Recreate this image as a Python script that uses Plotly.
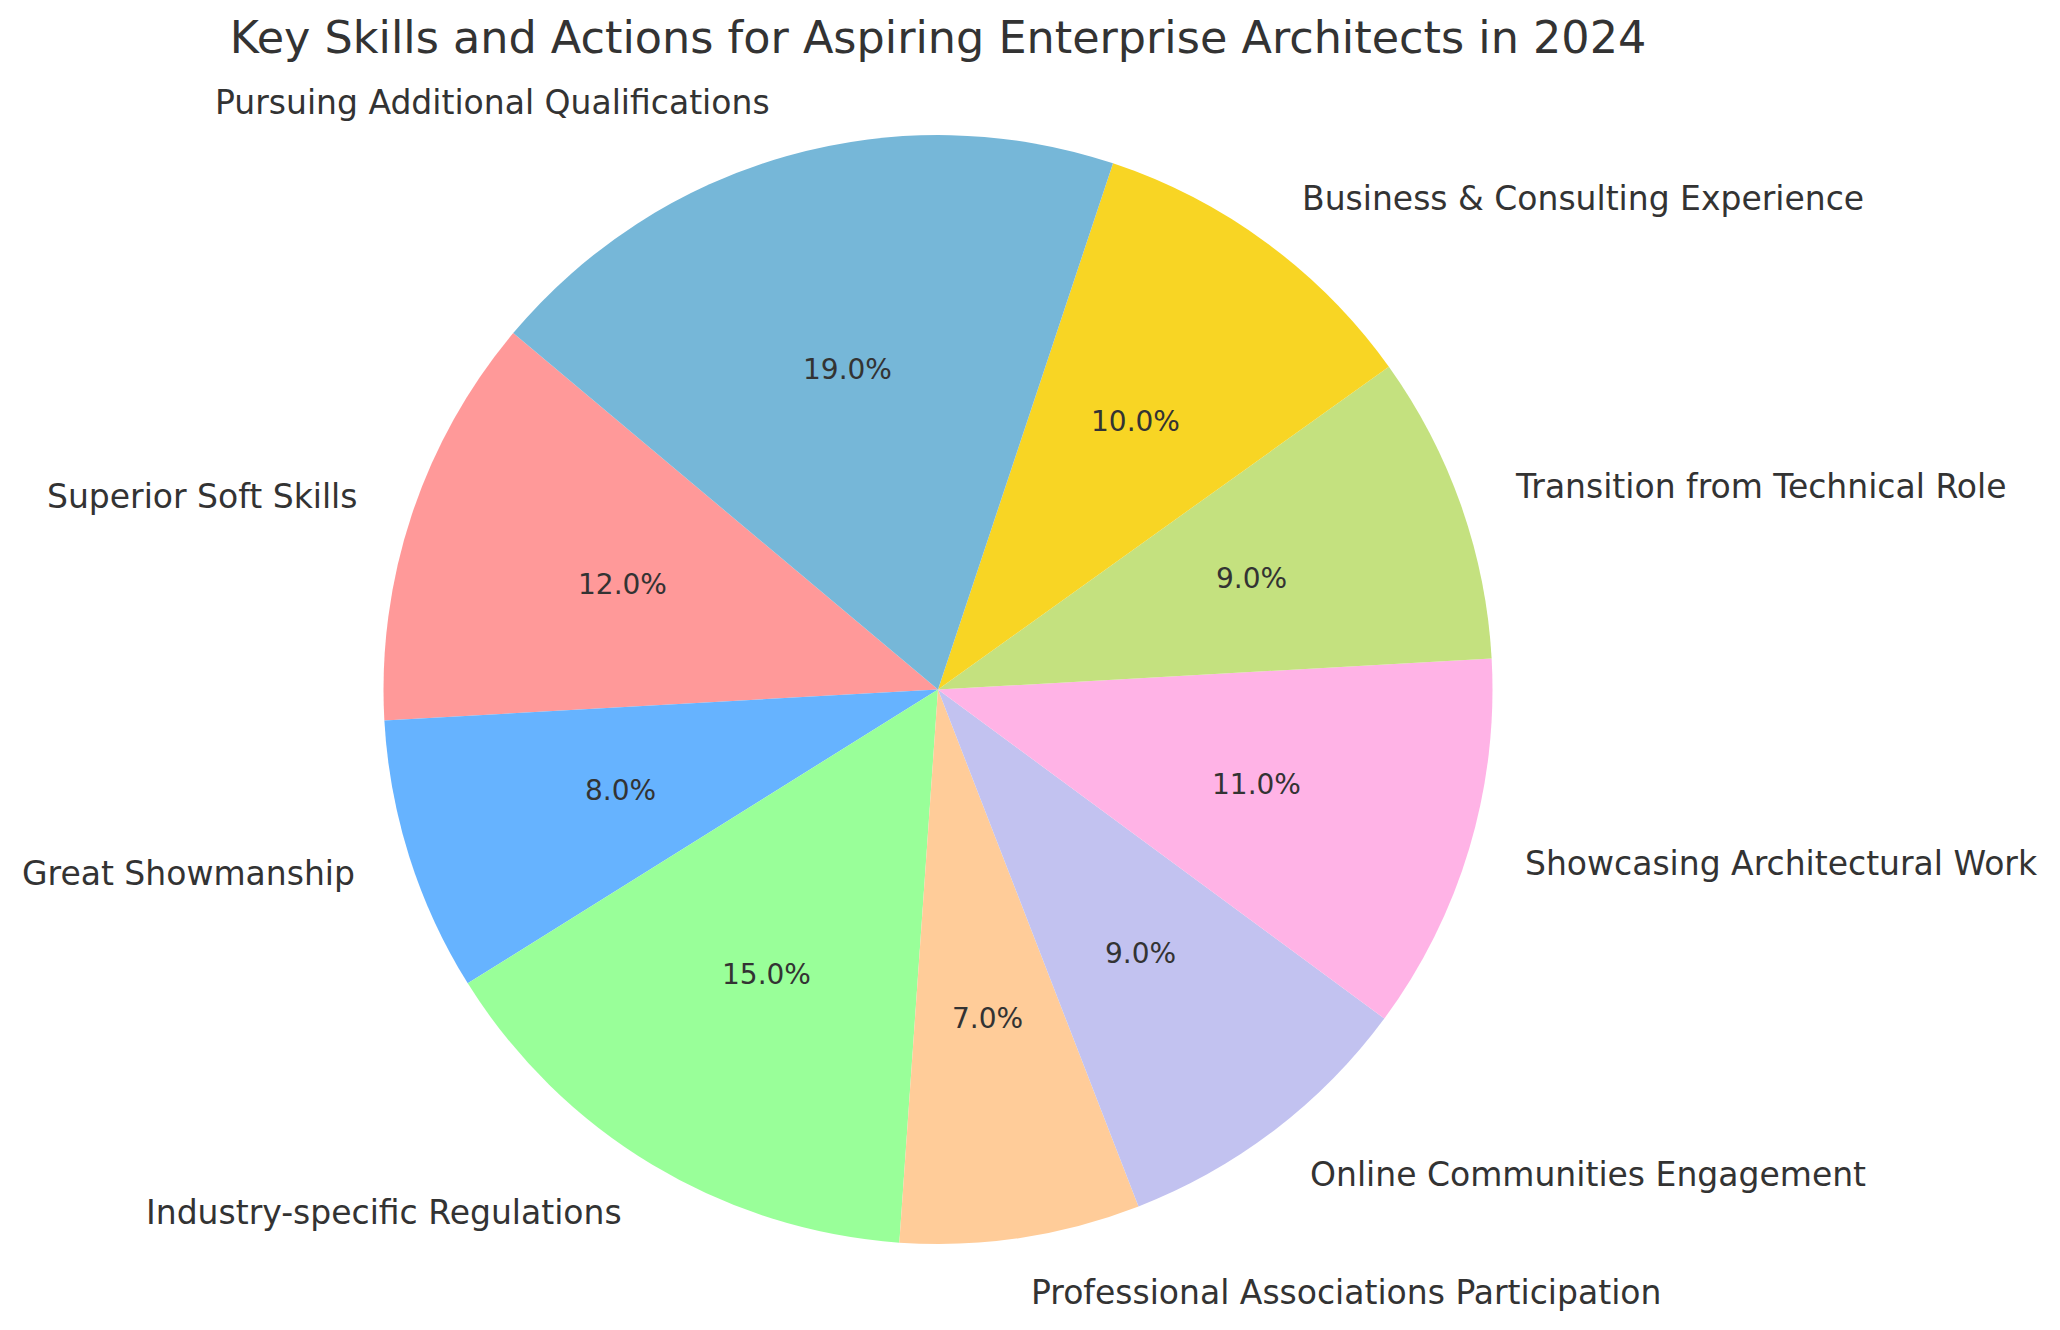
import numpy as np
import plotly.graph_objects as go

labels = ['Superior Soft Skills', 'Great Showmanship', 'Industry-specific Regulations',
          'Professional Associations Participation', 'Online Communities Engagement',
          'Showcasing Architectural Work', 'Transition from Technical Role',
          'Business & Consulting Experience', 'Pursuing Additional Qualifications']
values = [12, 8, 15, 7, 9, 11, 9, 10, 19]
colors = ['#ff9999', '#66b3ff', '#99ff99', '#ffcc99', '#c2c2f0',
          '#ffb3e6', '#c4e17f', '#f8d524', '#76b7d8']

W, H = 2060, 1330
cx, cy, r = 938, 640.5, 554.5   # pie centre (px from bottom-left) and radius
start = 140                      # degrees, counterclockwise from 3 o'clock
txt = '#333333'

vals = np.array(values, dtype=float)
# plotly's counterclockwise pie ends its first slice at `rotation`, so shift by that slice
rot = 90 - start - 360 * vals[0] / vals.sum()

fig = go.Figure(go.Pie(
    labels=labels, values=values, sort=False,
    direction='counterclockwise', rotation=rot,
    marker=dict(colors=colors, line=dict(width=0)),
    textinfo='none', hoverinfo='label+percent', showlegend=False,
    domain=dict(x=[(cx - r) / W, (cx + r) / W], y=[(cy - r) / H, (cy + r) / H]),
))

# labels at 1.1 r, percentages at 0.6 r, along each slice's middle angle
cum = np.concatenate([[0], np.cumsum(vals)[:-1]])
mid = np.deg2rad(start + 360 * (cum + vals / 2) / vals.sum())
for lab, v, a in zip(labels, vals, mid):
    pct = '%.1f%%' % (100 * v / vals.sum())
    fig.add_annotation(x=(cx + 0.6 * r * np.cos(a)) / W, y=(cy + 0.6 * r * np.sin(a)) / H,
                       xref='paper', yref='paper', text=pct, showarrow=False,
                       xanchor='center', yanchor='middle',
                       font=dict(size=28, color=txt))
    fig.add_annotation(x=(cx + 1.1 * r * np.cos(a)) / W, y=(cy + 1.1 * r * np.sin(a)) / H,
                       xref='paper', yref='paper', text=lab, showarrow=False,
                       xanchor='left' if np.cos(a) > 0 else 'right', yanchor='middle',
                       font=dict(size=33, color=txt))

fig.update_layout(
    width=W, height=H,
    margin=dict(l=0, r=0, t=0, b=0),
    paper_bgcolor='white', plot_bgcolor='white',
    font=dict(family='DejaVu Sans', color=txt),
    title=dict(text='Key Skills and Actions for Aspiring Enterprise Architects in 2024',
               x=cx / W, xanchor='center', y=1 - 37.6 / H, yanchor='middle',
               yref='container', font=dict(size=44.5, color=txt)),
)

fig.write_html("out.html", config={'displayModeBar': False},
               post_script="document.body.style.margin='0px';")
